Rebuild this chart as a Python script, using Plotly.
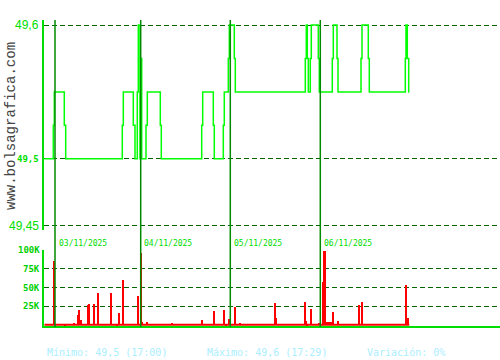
import plotly.graph_objects as go

# ---- data ----
price_t = [0.5, 9.3, 10.3, 20.3, 21.7, 78.3, 79.3, 89.3, 91, 93.3, 94.3, 96, 97, 97.7,
           102, 103.3, 116.3, 117.3, 157.7, 158.7, 169.3, 170.3, 179.3, 180.3, 184.3,
           185.3, 190.3, 191.3, 261.3, 262.3, 263.3, 264.3, 266.3, 267.3, 274.3, 275.3,
           288.3, 289.3, 293, 294, 317, 318, 324.3, 325.3, 361.3, 362, 363.3, 364.7, 365.3]
price_v = [49.5, 49.525, 49.55, 49.525, 49.5, 49.525, 49.55, 49.525, 49.5, 49.55, 49.6,
           49.5, 49.575, 49.5, 49.525, 49.55, 49.525, 49.5, 49.525, 49.55, 49.525, 49.5,
           49.525, 49.55, 49.575, 49.6, 49.575, 49.55, 49.575, 49.6, 49.575, 49.55,
           49.575, 49.6, 49.575, 49.55, 49.575, 49.6, 49.575, 49.55, 49.575, 49.6,
           49.575, 49.55, 49.575, 49.6, 49.575, 49.55, 49.55]

vol_t = [10.3, 21.3, 30.3, 34.3, 35.3, 37.3, 44.3, 45.3, 50.3, 53.5, 54.5, 67.3, 73.3,
         75.3, 79.3, 94.3, 97, 98.3, 103.3, 128.3, 158.3, 170.3, 180.3, 182, 185.3,
         191.3, 196.3, 231.3, 232.3, 261.3, 262.3, 263.3, 267.3, 275.3, 279.3, 280.3,
         281.3, 283.3, 284.3, 286.3, 287.3, 289.3, 294.3, 314.5, 315.5, 318.3, 362.3, 364.3]
vol_k = [86, 2, 3, 14, 20, 7, 27, 28, 28, 43, 43, 43, 2, 16, 60, 39, 96, 4, 4, 3, 7, 19,
         20, 2, 8, 24, 3, 30, 10, 31.5, 6, 2, 22, 3, 58, 99, 99, 4, 4, 4, 4, 18, 6,
         27.5, 27.5, 31.5, 53, 9]

day_t = [11, 96.7, 186.3, 276.3]
day_labels = ["03/11/2025", "04/11/2025", "05/11/2025", "06/11/2025"]

price_ticks = [49.6, 49.5, 49.45]
price_tick_text = ["49,6", "49,5", "49,45"]
vol_ticks = [100000, 75000, 50000, 25000]
vol_tick_text = ["100K", "75K", "50K", "25K"]

footer = ["Mínimo: 49,5 (17:00)", "Máximo: 49,6 (17:29)", "Variación: 0%"]
site = "www.bolsagrafica.com"

# ---- styling ----
W, H, L = 500, 360, 44
PW = W - L
def px(x):
    return (x - L) / PW
def py(y):
    return (H - y) / H

BRIGHT = "#00ff00"
LABEL = "#00e000"
GRID = "#006400"
SEP = "#008a00"
MONO = "DejaVu Sans Mono"

fig = go.Figure()

# red baseline of small volumes
fig.add_trace(go.Scatter(x=[min(price_t), max(price_t)], y=[600, 600], yaxis="y2",
                         mode="lines", line=dict(color="#ff0000", width=2),
                         hoverinfo="skip", showlegend=False))
fig.add_trace(go.Bar(x=vol_t, y=[v * 1000 for v in vol_k], yaxis="y2", width=1.0,
                     marker=dict(color="#ff0000", line=dict(width=0)), showlegend=False))
fig.add_trace(go.Scatter(x=price_t, y=price_v, yaxis="y", mode="lines",
                         line=dict(color=BRIGHT, width=1.5, shape="hv"), showlegend=False))

shapes = []
for t in day_t:
    shapes.append(dict(type="line", xref="x", yref="paper", x0=t, x1=t,
                       y0=py(327), y1=py(20), line=dict(color=SEP, width=1.5), layer="above"))

ann = []
sizes = [12, 9, 12]
bolds = [False, True, False]
fams = ["Liberation Sans", MONO, "Liberation Sans"]
for v, txt, s, b, f in zip(price_ticks, price_tick_text, sizes, bolds, fams):
    ann.append(dict(x=px(41), y=v, xref="paper", yref="y", xanchor="right", yanchor="middle",
                    text=f"<b>{txt}</b>" if b else txt, showarrow=False,
                    font=dict(family=f, size=s, color=LABEL)))
for v, txt in zip(vol_ticks, vol_tick_text):
    ann.append(dict(x=px(42), y=v, xref="paper", yref="y2", xanchor="right", yanchor="middle",
                    text=f"<b>{txt}</b>", showarrow=False,
                    font=dict(family=MONO, size=9, color="#00d000")))
for t, txt in zip(day_t, day_labels):
    ann.append(dict(x=t + 1.5, y=py(243.5), xref="x", yref="paper", xanchor="left",
                    yanchor="middle", text=txt, showarrow=False,
                    font=dict(family=MONO, size=8, color="#00dd00")))
for xx, txt in zip([45, 205, 365], footer):
    ann.append(dict(x=px(xx), y=py(352), xref="paper", yref="paper", xanchor="left",
                    yanchor="middle", text=txt, showarrow=False,
                    font=dict(family=MONO, size=10, color="#aaeeff")))
ann.append(dict(x=px(11), y=py(126), xref="paper", yref="paper", xanchor="center",
                yanchor="middle", text=site, textangle=-90, showarrow=False,
                font=dict(family="Liberation Mono", size=14, color="#444444")))

pr_top = 49.6 + 5 / 1338
pr_bot = 49.45 - 4.3 / 1338

fig.update_layout(
    width=W, height=H, margin=dict(l=L, r=0, t=0, b=0),
    paper_bgcolor="white", plot_bgcolor="white", bargap=0,
    xaxis=dict(range=[0, PW], anchor="y2", showgrid=False, zeroline=False,
               showticklabels=False, ticks="", showline=True, linecolor="#00dd00",
               linewidth=2),
    yaxis=dict(domain=[py(230), py(20)], range=[pr_bot, pr_top], tickvals=price_ticks,
               showticklabels=False, ticks="", showgrid=True, gridcolor=GRID,
               griddash="5px,3px", gridwidth=1, zeroline=False, showline=True,
               linecolor="#00dd00", linewidth=2),
    yaxis2=dict(domain=[py(326), py(250)], range=[-1000, 100000], tickvals=vol_ticks,
                showticklabels=False, ticks="", showgrid=True, gridcolor=GRID,
                griddash="5px,3px", gridwidth=1, zeroline=False, showline=True,
                linecolor="#00dd00", linewidth=2),
    shapes=shapes, annotations=ann, showlegend=False,
)

fig.write_html("out.html")
